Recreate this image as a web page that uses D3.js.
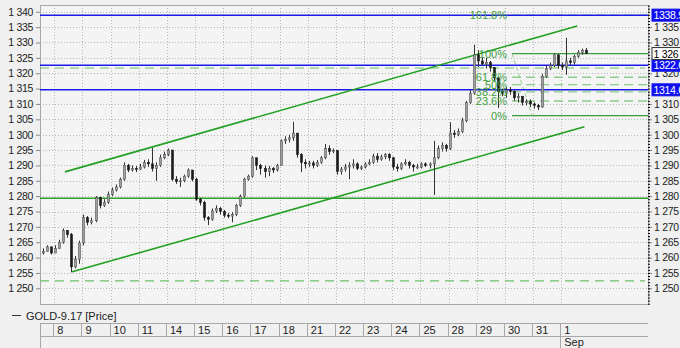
<!DOCTYPE html>
<html>
<head>
<meta charset="utf-8">
<script src="https://cdn.jsdelivr.net/npm/d3@7"></script>
<style>
  body { margin: 0; background: #f0f0f0; }
  svg { display: block; font-family: Arial, "Liberation Sans", sans-serif; }
</style>
</head>
<body>
<div id="chart"></div>
<script>
// price bars (open of each bar = close of the bar before)
var firstOpen = 1261.5;
var closes = [1262.0,1263.5,1261.5,1263.0,1265.0,1268.8,1267.5,1257.0,1259.5,1264.8,
  1273.0,1271.5,1272.0,1279.5,1277.0,1278.0,1280.5,1282.0,1283.0,1285.5,
  1290.0,1288.5,1289.0,1288.8,1289.5,1291.0,1290.5,1289.0,1290.0,1292.5,
  1293.5,1295.0,1285.5,1284.8,1285.0,1286.5,1288.5,1285.5,1279.0,1278.0,
  1273.0,1272.5,1275.2,1276.0,1275.0,1273.8,1273.5,1274.0,1277.0,1280.0,
  1285.5,1286.5,1292.5,1290.0,1289.0,1288.0,1289.0,1288.5,1290.0,1298.0,
  1298.5,1299.0,1300.5,1293.5,1291.0,1290.5,1290.8,1290.0,1291.0,1292.5,
  1295.5,1294.5,1294.8,1288.0,1288.8,1289.5,1290.0,1290.5,1289.0,1289.5,
  1290.5,1291.0,1293.0,1292.0,1292.8,1293.5,1292.5,1289.5,1289.0,1290.5,
  1291.0,1290.0,1289.5,1289.5,1290.5,1290.0,1290.5,1292.5,1295.5,1296.5,
  1295.5,1300.5,1300.0,1301.0,1304.5,1310.5,1313.5,1326.0,1324.0,1323.0,
  1323.5,1321.8,1318.5,1314.0,1313.5,1314.5,1314.0,1312.0,1312.5,1310.5,
  1310.8,1310.0,1309.5,1309.0,1319.0,1321.5,1322.5,1326.0,1322.5,1322.0,
  1324.0,1323.5,1325.5,1326.8,1327.5,1326.4];
var highs = [1263.0,1264.0,1263.5,1264.0,1265.8,1269.5,1269.0,1268.0,1260.5,1265.5,
  1274.0,1273.5,1273.0,1280.0,1279.8,1279.0,1281.5,1282.8,1283.8,1286.0,
  1291.0,1290.5,1290.0,1289.8,1290.5,1291.8,1292.0,1295.7,1291.0,1293.5,
  1294.5,1295.5,1295.0,1286.5,1286.0,1287.0,1289.0,1288.5,1286.0,1279.5,
  1278.5,1273.5,1276.0,1277.0,1276.5,1275.5,1274.5,1274.8,1277.5,1280.5,
  1286.0,1287.0,1293.0,1292.5,1290.5,1290.0,1289.8,1289.5,1290.5,1298.5,
  1299.5,1300.0,1304.2,1300.5,1294.0,1292.0,1291.5,1291.5,1291.8,1293.0,
  1297.0,1296.5,1295.5,1295.0,1289.5,1290.5,1291.0,1292.0,1291.0,1290.0,
  1291.0,1292.0,1293.8,1294.0,1293.5,1294.0,1294.0,1292.8,1290.5,1291.0,
  1292.0,1291.5,1290.5,1290.5,1291.0,1291.0,1291.0,1298.0,1296.5,1297.5,
  1297.0,1304.0,1301.5,1302.0,1305.5,1311.0,1314.5,1329.3,1327.5,1325.0,
  1325.0,1324.0,1322.0,1318.5,1315.0,1315.5,1315.5,1314.5,1313.5,1312.5,
  1311.5,1311.5,1310.5,1310.0,1319.8,1322.5,1323.5,1326.5,1326.0,1323.5,
  1331.5,1325.0,1326.0,1327.5,1328.0,1328.2];
var lows = [1261.0,1262.0,1261.0,1261.5,1262.8,1264.5,1266.5,1255.3,1256.5,1258.0,
  1264.0,1270.5,1270.8,1271.5,1276.0,1276.5,1277.5,1280.0,1281.5,1282.5,
  1285.0,1287.8,1288.0,1287.8,1288.5,1289.0,1289.5,1288.0,1285.0,1289.5,
  1292.0,1293.0,1285.0,1284.0,1283.0,1284.5,1286.0,1284.8,1278.5,1277.0,
  1272.0,1270.6,1272.0,1274.5,1274.0,1273.0,1272.8,1271.5,1273.5,1276.5,
  1279.5,1285.0,1286.0,1288.5,1287.0,1286.0,1286.5,1287.5,1288.0,1290.0,
  1297.0,1297.5,1298.0,1292.5,1287.8,1289.0,1289.5,1289.0,1289.5,1290.5,
  1292.0,1293.5,1294.0,1287.0,1287.0,1288.0,1285.5,1289.0,1288.5,1288.5,
  1289.0,1290.0,1290.5,1291.0,1291.5,1292.0,1291.5,1288.5,1288.0,1288.5,
  1290.0,1289.0,1288.0,1288.8,1289.0,1289.5,1289.0,1280.4,1292.0,1294.5,
  1294.5,1295.0,1299.0,1299.5,1300.5,1304.0,1310.0,1313.0,1322.0,1322.5,
  1321.5,1320.5,1317.5,1308.7,1312.5,1312.0,1313.0,1311.0,1310.5,1309.5,
  1309.5,1309.0,1308.5,1308.0,1308.8,1318.5,1321.0,1322.0,1321.5,1321.0,
  1319.5,1322.5,1322.8,1325.0,1326.0,1326.3];

// date axis
var dayLabels = ["8","9","10","11","14","15","16","17","18","21","22","23","24","25","28","29","30","31","1"];
var firstDayBar = 3, barsPerDay = 7;
var monthLabel = "Sep", monthDay = 18;

// drawn objects
var upperChannel = [{i: 5.4, v: 1287.9}, {i: 132.7, v: 1335.4}];
var lowerChannel = [{i: 7, v: 1255.3}, {i: 134.5, v: 1302.6}];
var blueLevels = [1338.9, 1322.6, 1314.6];
var greenSolidLevels = [1279.3];
var greenDashedLevels = [1321.7, 1252.4];
var fibLevels = [0, 23.6, 38.2, 50, 61.8, 100, 161.8];
var fibLow = 1306.2, fibHigh = 1326.4, fibStart = 117, fibEnd = 122;
var yTicks = d3.range(1250, 1341, 5);

var width = 680, height = 348;
var plot = {left: 40, right: 648, top: 5, bottom: 304};
var labelFont = "10.5px";

var svg = d3.select("#chart").append("svg")
    .attr("width", width)
    .attr("height", height);

var x = d3.scaleLinear().domain([0, 135]).range([43.2, 43.2 + 4.024 * 135]);
var y = d3.scaleLinear().domain([1244.9, 1342.2]).range([plot.bottom, plot.top]);
var fmt = function(v) { return d3.format(",")(Math.round(v)).replace(",", " "); };

// price boxes shown on the right scale
var lastClose = closes[closes.length - 1];
var boxes = blueLevels.map(function(v) { return {v: v, t: v.toFixed(1), bg: "#1010f0", fg: "#fff", bd: "#1010f0"}; });
boxes.push({v: lastClose, t: fmt(lastClose), bg: "#fff", fg: "#000", bd: "#333"});

// plot background
svg.append("rect")
    .attr("x", plot.left).attr("y", plot.top)
    .attr("width", plot.right - plot.left).attr("height", plot.bottom - plot.top)
    .style("fill", "#f4f4f4");

svg.append("clipPath").attr("id", "clip").append("rect")
    .attr("x", plot.left).attr("y", plot.top)
    .attr("width", plot.right - plot.left).attr("height", plot.bottom - plot.top);

// grid
var dayStarts = dayLabels.map(function(d, k) { return x(firstDayBar + k * barsPerDay - 0.5); });
svg.append("g").selectAll("line").data(yTicks).enter().append("line")
    .attr("x1", plot.left).attr("x2", plot.right)
    .attr("y1", function(d) { return Math.round(y(d)) + 0.5; })
    .attr("y2", function(d) { return Math.round(y(d)) + 0.5; })
    .style("stroke", "#b8b8b8").style("stroke-dasharray", "1,2");
svg.append("g").selectAll("line").data(dayStarts).enter().append("line")
    .attr("x1", function(d) { return Math.round(d) + 1.5; })
    .attr("x2", function(d) { return Math.round(d) + 1.5; })
    .attr("y1", plot.top).attr("y2", plot.bottom)
    .style("stroke", "#b8b8b8").style("stroke-dasharray", "1,2");

// frame
svg.append("rect")
    .attr("x", plot.left + 0.5).attr("y", plot.top + 0.5)
    .attr("width", plot.right - plot.left).attr("height", plot.bottom - plot.top)
    .style("fill", "none").style("stroke", "#a8a8a8");

// left axis
var yLeft = svg.append("g").attr("transform", "translate(" + plot.left + ",0)")
    .call(d3.axisLeft(y).tickValues(yTicks).tickSize(4).tickPadding(3).tickFormat(fmt));
// right axis, labels hidden where a price box covers them
var rightTicks = yTicks.filter(function(t) {
  return boxes.every(function(b) { return Math.abs(y(t) - y(b.v)) > 5; });
});
var yRight = svg.append("g").attr("transform", "translate(" + plot.right + ",0)")
    .call(d3.axisRight(y).tickValues(rightTicks).tickSize(4).tickPadding(2).tickFormat(fmt));
svg.append("g").attr("transform", "translate(" + plot.right + ",0)")
    .call(d3.axisRight(y).tickValues(d3.range(1245, 1343, 1)).tickSize(2).tickFormat(""))
    .select(".domain").remove();
[yLeft, yRight].forEach(function(g) {
  g.select(".domain").remove();
  g.selectAll("line").style("stroke", "#888");
  g.selectAll("text").style("font-size", labelFont).style("fill", "#222")
      .style("letter-spacing", "-0.3px")
      .style("font-family", "Arial, 'Liberation Sans', sans-serif");
});

var layer = svg.append("g").attr("clip-path", "url(#clip)");

// horizontal green lines
layer.selectAll(".gsolid").data(greenSolidLevels).enter().append("line")
    .attr("x1", plot.left).attr("x2", plot.right)
    .attr("y1", function(d) { return y(d); }).attr("y2", function(d) { return y(d); })
    .style("stroke", "#2ca02c").style("stroke-width", 1.5);
layer.selectAll(".gdash").data(greenDashedLevels).enter().append("line")
    .attr("x1", plot.left).attr("x2", plot.right - 3)
    .attr("y1", function(d) { return y(d); }).attr("y2", function(d) { return y(d); })
    .style("stroke", "#6cc06c").style("stroke-width", 1.2).style("stroke-dasharray", "9,6");

// fibonacci
var fibY = function(p) { return y(fibLow + (fibHigh - fibLow) * p / 100); };
layer.selectAll(".fib").data(fibLevels).enter().append("line")
    .attr("x1", x(fibStart) - 2).attr("x2", plot.right)
    .attr("y1", function(d) { return fibY(d); }).attr("y2", function(d) { return fibY(d); })
    .style("stroke", function(d) { return (d == 0 || d == 100) ? "#3a9f3a" : "#8ccc8c"; })
    .style("stroke-width", 1.3)
    .style("stroke-dasharray", function(d) { return (d == 0 || d == 100) ? null : "9,5"; });
layer.append("line")
    .attr("x1", x(fibStart) - 2).attr("y1", y(fibHigh))
    .attr("x2", x(fibEnd) - 2).attr("y2", y(fibLow))
    .style("stroke", "#8ccc8c").style("stroke-dasharray", "4,3");
svg.selectAll(".fibtxt").data(fibLevels).enter().append("text")
    .attr("x", x(fibStart) - 7)
    .attr("y", function(d) { return fibY(d) + 4; })
    .attr("text-anchor", "end")
    .style("font-size", "11px").style("fill", "#3f9f3f")
    .text(function(d) { return d + "%"; });

// blue lines
layer.selectAll(".blue").data(blueLevels).enter().append("line")
    .attr("x1", plot.left).attr("x2", plot.right)
    .attr("y1", function(d) { return y(d); }).attr("y2", function(d) { return y(d); })
    .style("stroke", "#1a1ae6").style("stroke-width", 1.5);

// channel
var line = d3.line().x(function(d) { return x(d.i); }).y(function(d) { return y(d.v); });
[upperChannel, lowerChannel].forEach(function(c) {
  layer.append("path").datum(c).attr("d", line)
      .style("fill", "none").style("stroke", "#22a022").style("stroke-width", 1.6);
});

// candles
var bars = closes.map(function(c, i) {
  return {i: i, o: i == 0 ? firstOpen : closes[i - 1], h: highs[i], l: lows[i], c: c};
});
var candle = layer.selectAll(".candle").data(bars).enter().append("g");
candle.append("line")
    .attr("x1", function(d) { return Math.round(x(d.i)) + 0.5; })
    .attr("x2", function(d) { return Math.round(x(d.i)) + 0.5; })
    .attr("y1", function(d) { return y(d.h); }).attr("y2", function(d) { return y(d.l); })
    .style("stroke", "#333");
candle.append("rect")
    .attr("x", function(d) { return Math.round(x(d.i)) - 0.5; })
    .attr("width", 2)
    .attr("y", function(d) { return y(Math.max(d.o, d.c)); })
    .attr("height", function(d) { return Math.max(1, Math.abs(y(d.o) - y(d.c))); })
    .style("fill", function(d) { return d.c >= d.o ? "#a0a0a0" : "#1a1a1a"; })
    .style("stroke", function(d) { return d.c >= d.o ? "#555" : "#1a1a1a"; })
    .style("stroke-width", 0.6);

// price boxes
var box = svg.selectAll(".box").data(boxes).enter().append("g")
    .attr("transform", function(d) { return "translate(652," + (y(d.v) - 6) + ")"; });
box.append("rect").attr("width", 40).attr("height", 12)
    .style("fill", function(d) { return d.bg; }).style("stroke", function(d) { return d.bd; });
box.append("text").attr("x", 1.5).attr("y", 10)
    .style("font-size", labelFont).style("letter-spacing", "-0.3px")
    .style("fill", function(d) { return d.fg; })
    .text(function(d) { return d.t; });

// legend
svg.append("line").attr("x1", 12).attr("x2", 21).attr("y1", 315.5).attr("y2", 315.5).style("stroke", "#333");
svg.append("text").attr("x", 26).attr("y", 320).style("font-size", "11px").style("fill", "#222")
    .text("GOLD-9.17 [Price]");

// date axis
var da = svg.append("g").style("stroke", "#a8a8a8");
da.append("line").attr("x1", plot.left).attr("x2", plot.right).attr("y1", 323.5).attr("y2", 323.5);
da.append("line").attr("x1", plot.left).attr("x2", plot.right).attr("y1", 336.5).attr("y2", 336.5);
da.append("line").attr("x1", plot.left + 0.5).attr("x2", plot.left + 0.5).attr("y1", 323).attr("y2", 348);
da.selectAll(".sep").data(dayStarts).enter().append("line")
    .attr("x1", function(d) { return Math.round(d) + 0.5; })
    .attr("x2", function(d) { return Math.round(d) + 0.5; })
    .attr("y1", 323)
    .attr("y2", function(d, k) { return k == monthDay ? 348 : 336; });
svg.selectAll(".day").data(dayLabels).enter().append("text")
    .attr("x", function(d, k) { return dayStarts[k] + 4; })
    .attr("y", 334)
    .style("font-size", "11px").style("fill", "#222")
    .text(function(d) { return d; });
svg.append("text").attr("x", dayStarts[monthDay] + 4).attr("y", 346)
    .style("font-size", "11px").style("fill", "#222").text(monthLabel);
</script>
</body>
</html>
